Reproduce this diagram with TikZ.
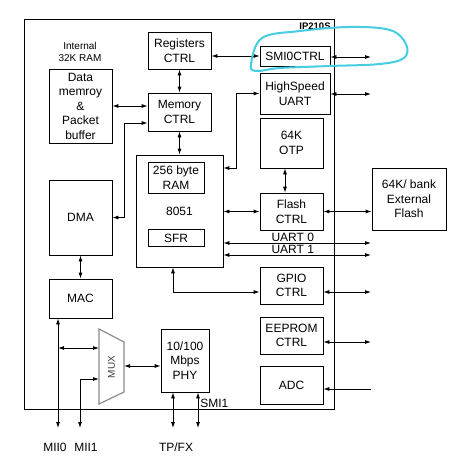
\documentclass[tikz,border=0pt]{standalone}
\usepackage{fontspec}
\setmainfont{Liberation Sans}
\usetikzlibrary{arrows.meta}
\definecolor{markcyan}{RGB}{70,205,225}
\definecolor{muxgray}{RGB}{140,140,140}

\begin{document}
\begin{tikzpicture}
  [x=1pt,y=-1pt,line width=0.8pt,>={Latex[length=6pt,width=4pt]},
   blk/.style={draw,rectangle,align=center,inner sep=0pt,
     font=\fontsize{12}{14.5}\selectfont},
   lbl/.style={inner sep=0pt,font=\fontsize{12}{13}\selectfont}]
  \useasboundingbox (0,0) rectangle (448,466);
  % chip outline
  \draw (24,19) rectangle (334,409);
  \node[inner sep=0pt,anchor=east,font=\fontsize{9.5}{10}\selectfont\bfseries] (chip) at (331,26) {IP210S};
  \node[inner sep=0pt,align=center,font=\fontsize{10}{12}\selectfont] (ramlbl) at (80,52) {Internal\\32K RAM};

  \node[blk,minimum width=63,minimum height=37] (regctrl) at (179.5,50.5) {Registers\\CTRL};
  \node[blk,minimum width=63,minimum height=74] (datamem) at (80.5,106) {Data\\memroy\\\&\\Packet\\buffer};
  \node[blk,minimum width=63,minimum height=38] (memctrl) at (179.5,112) {Memory\\CTRL};
  \node[blk,minimum width=87,minimum height=112] (cpu) at (179.5,211) {8051};
  \node[blk,minimum width=56,minimum height=31] (ram) at (176,177.5) {256 byte\\RAM};
  \node[blk,minimum width=56,minimum height=17] (sfr) at (176,238) {SFR};
  \node[blk,minimum width=63,minimum height=75] (dma) at (80.5,217.5) {DMA};
  \node[blk,minimum width=63,minimum height=39] (mac) at (80.5,298.5) {MAC};
  \node[blk,minimum width=70,minimum height=20] (smi0) at (295,56) {SMI0CTRL};
  \node[blk,minimum width=70,minimum height=41] (hsuart) at (295,93.5) {HighSpeed\\UART};
  \node[blk,minimum width=63,minimum height=50] (otp) at (291.5,143) {64K\\OTP};
  \node[blk,minimum width=63,minimum height=37] (flash) at (291.5,211.5) {Flash\\CTRL};
  \node[blk,minimum width=74,minimum height=62] (extflash) at (409,199) {64K/ bank\\External\\Flash};
  \node[blk,minimum width=63,minimum height=37] (gpio) at (291.5,285.5) {GPIO\\CTRL};
  \node[blk,minimum width=63,minimum height=37] (eeprom) at (291.5,335.5) {EEPROM\\CTRL};
  \node[blk,minimum width=63,minimum height=38] (adc) at (291.5,385) {ADC};
  \node[blk,minimum width=48,minimum height=63] (phy) at (185,360.5) {10/100\\Mbps\\PHY};

  % mux
  \draw[muxgray,line width=1.2pt] (99,329) -- (124,342) -- (124,392) -- (99,404) -- cycle;
  \node[inner sep=0pt,rotate=90,text=black!75,font=\fontsize{10}{11}\selectfont] (mux) at (111.5,367) {MUX};
  \coordinate (muxa) at (99,348);
  \coordinate (muxb) at (99,379);
  \coordinate (muxc) at (124,366);

  % pins
  \coordinate (mii0) at (58,428);
  \coordinate (mii1) at (80,428);
  \coordinate (tp) at (173,428);
  \coordinate (smi1) at (198,428);
  \node[lbl] (mii0l) at (55,447) {MII0};
  \node[lbl] (mii1l) at (86,447) {MII1};
  \node[lbl] (tpl) at (176,447) {TP/FX};
  \node[lbl,anchor=west] (smi1l) at (200,403) {SMI1};

  % outside ends on the right
  \coordinate (xsmi) at (371,57);
  \coordinate (xuart) at (371,94);
  \coordinate (xu0) at (371,243);
  \coordinate (xu1) at (371,255);
  \coordinate (xgpio) at (371,292);
  \coordinate (xee) at (371,342);
  \coordinate (xadc) at (371,389);

  \draw[<->] (regctrl.east |- smi0.west) -- (smi0.west);
  \draw[<->] (regctrl) -- (memctrl);
  \draw[<->] (datamem.east) -- (memctrl.west |- datamem.east);
  \draw[<->] (dma.east) -- ++(12,0) |- ([yshift=-11pt]memctrl.west);
  \draw[<->] (memctrl) -- (cpu);
  \draw[<->] ([yshift=43pt]cpu.east) -- ++(13,0) |- (hsuart.west);
  \draw[<->] (otp.south -| 285,0) -- (flash.north -| 285,0);
  \draw[<->] (cpu.east |- flash.west) -- (flash.west);
  \draw[<->] (flash.east) -- (flash.east -| extflash.west);
  \draw[<->] (cpu.east |- xu0) -- node[lbl,above=1pt,pos=0.47] (u0l) {UART 0} (xu0);
  \draw[<->] (cpu.east |- xu1) -- node[lbl,above=1pt,pos=0.47] (u1l) {UART 1} (xu1);
  \draw[<->] (cpu.south -| 173,0) |- ([yshift=-6.5pt]gpio.west);
  \draw[<->] (smi0.east |- xsmi) -- (xsmi);
  \draw[<->] (hsuart.east |- xuart) -- (xuart);
  \draw[<->] (gpio.east |- xgpio) -- (xgpio);
  \draw[<->] (eeprom.east |- xee) -- (xee);
  \draw[<-] (adc.east |- xadc) -- (xadc);
  \draw[<->] (dma) -- (mac);
  \draw[<->] (mac.south -| mii0) -- (mii0);
  \draw[<->] (mii0 |- muxa) -- (muxa);
  \draw[<->] (mii1) |- (muxb);
  \draw[<->] (muxc) -- (phy.west |- muxc);
  \draw[<->] (phy.south -| tp) -- (tp);
  \draw[<->] (phy.south -| smi1) -- (smi1);

  % hand drawn mark
  \draw[markcyan,line width=2pt,line cap=round] plot[smooth cycle,tension=0.6]
    coordinates {(251,64) (262,38) (300,31) (350,27) (390,30) (406,44) (404,58) (380,64) (330,66) (280,68) (256,71)};
\end{tikzpicture}
\end{document}
